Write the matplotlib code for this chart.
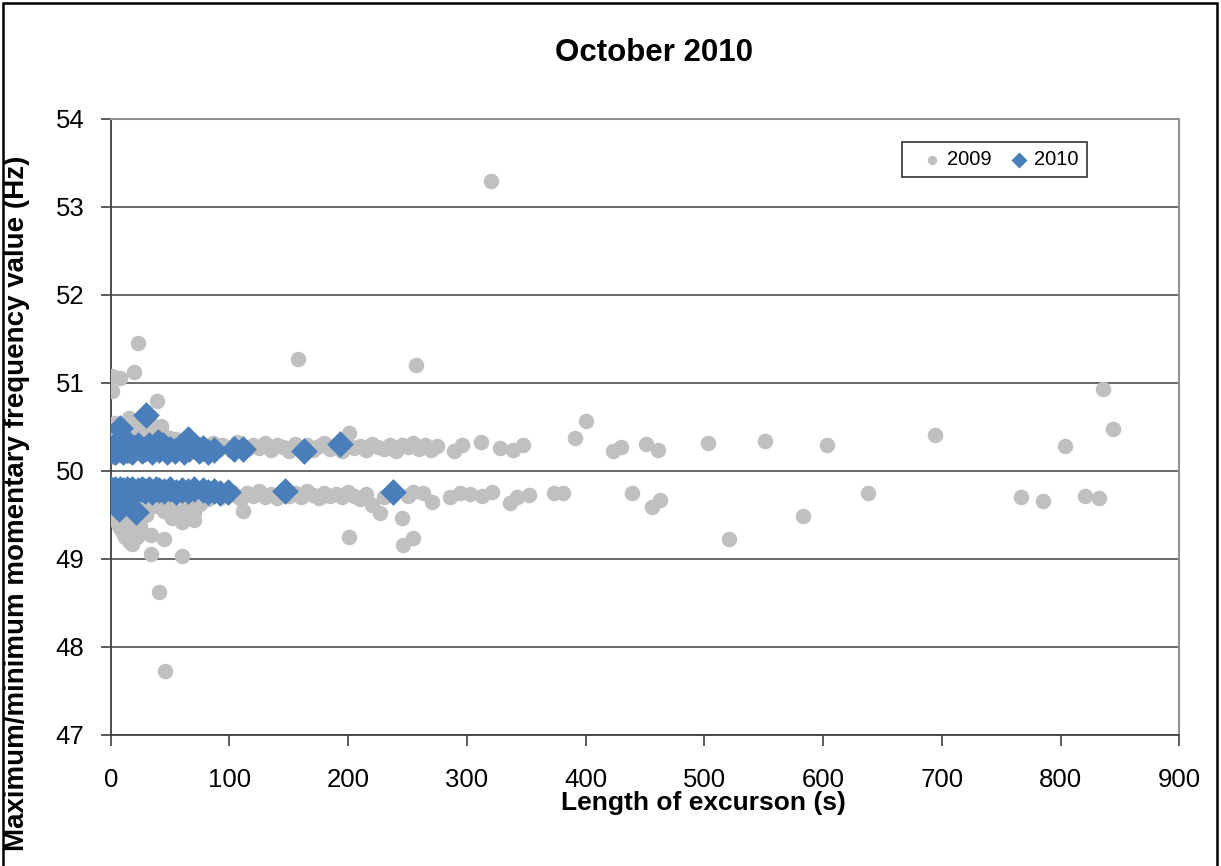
# 频率偏移散点图 October 2010
import matplotlib
matplotlib.use('Agg')
import matplotlib.pyplot as plt
from matplotlib.patches import Rectangle

plt.rcParams['font.family'] = ['Liberation Sans', 'DejaVu Sans']

# 2009 - upper band (dense)
x09_hi = [0, 2, 3, 5, 6, 8, 10, 12, 14, 15, 17, 19, 20, 22, 24, 26, 28, 30, 32, 34, 36, 38, 40, 43,
          46, 49, 52, 55, 58, 61, 64, 67, 70, 74, 78, 82, 86, 90, 94, 98, 102, 106, 110, 115, 120,
          125, 130, 135, 140, 145, 150, 155, 160, 165, 170, 175, 180, 185, 190, 195, 200, 205, 210,
          215, 220, 225, 230, 235, 240, 245, 250, 255, 260, 265, 270, 275,
          2, 4, 7, 10, 12, 15, 18, 20, 24, 27, 30, 33, 37, 42, 45, 50, 3, 9, 16, 25, 35, 55, 62]
y09_hi = [50.25, 50.3, 50.22, 50.33, 50.27, 50.24, 50.35, 50.28, 50.22, 50.31, 50.26, 50.34, 50.23,
          50.29, 50.32, 50.24, 50.3, 50.27, 50.33, 50.22, 50.28, 50.31, 50.25, 50.3, 50.23, 50.32,
          50.27, 50.24, 50.3, 50.33, 50.26, 50.23, 50.29, 50.31, 50.25, 50.28, 50.32, 50.24, 50.3,
          50.27, 50.23, 50.33, 50.28, 50.25, 50.3, 50.26, 50.32, 50.24, 50.29, 50.27, 50.23, 50.31,
          50.26, 50.3, 50.24, 50.28, 50.32, 50.25, 50.29, 50.23, 50.3, 50.26, 50.28, 50.24, 50.31,
          50.27, 50.25, 50.29, 50.23, 50.3, 50.27, 50.32, 50.25, 50.29, 50.24, 50.28,
          50.45, 50.55, 50.4, 50.5, 50.38, 50.6, 50.45, 50.55, 50.5, 50.6, 50.42, 50.55, 50.4, 50.45,
          50.35, 50.38, 50.16, 50.18, 50.17, 50.4, 50.45, 50.36, 50.35]

# 2009 - lower band (dense)
x09_lo = [0, 2, 3, 5, 6, 8, 10, 12, 14, 15, 17, 19, 20, 22, 24, 26, 28, 30, 32, 34, 36, 38, 40, 43,
          46, 49, 52, 55, 58, 61, 64, 67, 70, 74, 78, 82, 86, 90, 94, 98, 102, 106, 110, 115, 120,
          125, 130, 135, 140, 145, 150, 155, 160, 165, 170, 175, 180, 185, 190, 195, 200, 205, 210,
          215, 230, 235, 250, 255,
          1, 2, 3, 5, 6, 8, 10, 10, 12, 14, 15, 17, 18, 20, 22, 24, 26, 28, 30, 34, 38, 45, 50, 55,
          60, 65, 70, 75, 4, 7, 13, 25]
y09_lo = [49.75, 49.7, 49.78, 49.68, 49.74, 49.79, 49.71, 49.76, 49.68, 49.73, 49.79, 49.7, 49.75,
          49.69, 49.77, 49.72, 49.68, 49.76, 49.7, 49.74, 49.78, 49.69, 49.73, 49.77, 49.7, 49.75,
          49.68, 49.72, 49.77, 49.7, 49.74, 49.69, 49.76, 49.71, 49.75, 49.68, 49.73, 49.77, 49.7,
          49.74, 49.76, 49.71, 49.68, 49.75, 49.72, 49.77, 49.7, 49.74, 49.69, 49.76, 49.72, 49.75,
          49.7, 49.77, 49.73, 49.69, 49.75, 49.71, 49.74, 49.7, 49.76, 49.72, 49.68, 49.74, 49.7,
          49.75, 49.72, 49.76,
          49.6, 49.5, 49.45, 49.55, 49.4, 49.35, 49.5, 49.3, 49.25, 49.4, 49.2, 49.3, 49.17, 49.35,
          49.25, 49.45, 49.55, 49.6, 49.5, 49.65, 49.6, 49.55, 49.6, 49.55, 49.5, 49.6, 49.52, 49.62,
          49.58, 49.62, 49.48, 49.38]

# 2009 - outliers and sparse points
x09_out = [320, 23, 158, 257, 1, 8, 20, 1, 39, 42, 201, 312, 391, 400, 423, 430, 451, 461, 503, 551,
           603, 694, 804, 836, 844, 289, 296, 328, 339, 347,
           34, 60, 41, 46, 34, 45, 52, 60, 70, 111, 201, 227, 220, 245, 246, 255, 336, 352, 373, 381,
           439, 456, 463, 521, 583, 638, 767, 785, 821, 832, 263, 271, 286, 294, 303, 313, 321, 342]
y09_out = [53.3, 51.46, 51.27, 51.21, 51.08, 51.06, 51.12, 50.91, 50.79, 50.51, 50.43, 50.33, 50.37,
           50.57, 50.23, 50.27, 50.31, 50.24, 50.32, 50.34, 50.29, 50.41, 50.28, 50.93, 50.48,
           50.23, 50.29, 50.26, 50.24, 50.29,
           49.06, 49.03, 48.62, 47.73, 49.27, 49.23, 49.47, 49.42, 49.44, 49.55, 49.25, 49.52, 49.61,
           49.47, 49.16, 49.24, 49.64, 49.73, 49.75, 49.75, 49.75, 49.59, 49.67, 49.23, 49.49, 49.75,
           49.7, 49.66, 49.71, 49.69, 49.75, 49.65, 49.7, 49.75, 49.74, 49.72, 49.76, 49.7]

# 2010 - upper
x10_hi = [0, 2, 4, 6, 8, 10, 12, 14, 16, 18, 20, 23, 26, 29, 32, 35, 38, 41, 44, 47, 50, 54, 58, 62,
          66, 70, 74, 78, 82, 87, 65, 8, 30, 104, 111, 163, 193, 5, 15, 40, 60]
y10_hi = [50.23, 50.27, 50.22, 50.3, 50.25, 50.22, 50.28, 50.24, 50.3, 50.22, 50.26, 50.29, 50.23,
          50.25, 50.3, 50.22, 50.27, 50.24, 50.29, 50.22, 50.25, 50.23, 50.27, 50.22, 50.25, 50.28,
          50.23, 50.26, 50.22, 50.24, 50.36, 50.49, 50.64, 50.25, 50.25, 50.23, 50.31, 50.32, 50.3,
          50.33, 50.3]

# 2010 - lower
x10_lo = [0, 2, 4, 6, 8, 10, 12, 14, 16, 18, 20, 23, 26, 29, 32, 35, 38, 41, 45, 50, 55, 60, 65, 70,
          78, 82, 87, 92, 99, 7, 21, 5, 12, 18, 147, 238]
y10_lo = [49.8, 49.77, 49.79, 49.76, 49.8, 49.78, 49.75, 49.79, 49.77, 49.8, 49.76, 49.78, 49.8,
          49.77, 49.79, 49.76, 49.8, 49.78, 49.77, 49.79, 49.76, 49.78, 49.77, 49.8, 49.78, 49.76,
          49.77, 49.75, 49.76, 49.57, 49.53, 49.68, 49.7, 49.72, 49.77, 49.76]

fig = plt.figure(figsize=(12.21, 8.66), dpi=100)
ax = fig.add_axes([0.0907, 0.1513, 0.8751, 0.7113])

ax.scatter(x09_hi + x09_lo + x09_out, y09_hi + y09_lo + y09_out, s=125, marker='o',
           color='#C0C0C0', linewidths=0, label='2009', zorder=3)
ax.scatter(x10_hi + x10_lo, y10_hi + y10_lo, s=185, marker='D', color='#4A7EBB',
           linewidths=0, label='2010', zorder=4)

ax.set_xlim(0, 900)
ax.set_ylim(47, 54)
ax.set_xticks(range(0, 901, 100))
ax.set_yticks(range(47, 55))
ax.grid(axis='y', color='#404040', linewidth=1.1, zorder=1)
ax.set_axisbelow(True)

for s in ['left', 'bottom']:
    ax.spines[s].set_color('#404040')
    ax.spines[s].set_linewidth(1.3)
for s in ['top', 'right']:
    ax.spines[s].set_color('#909090')
    ax.spines[s].set_linewidth(1.5)

ax.tick_params(axis='y', direction='out', length=7, width=1.2, pad=12, labelsize=18.5, color='#404040')
ax.tick_params(axis='x', direction='out', length=8, width=1.2, pad=16, labelsize=18.5, color='#404040')

leg = ax.legend(loc='upper left', bbox_to_anchor=(0.7405, 0.9627), borderaxespad=0,
                fontsize=14.5, frameon=True, fancybox=False, edgecolor='black', ncol=2,
                handletextpad=-0.35, columnspacing=0.25, borderpad=0.4, markerscale=0.6,
                handlelength=2.2, scatterpoints=1)
leg.get_frame().set_linewidth(1.2)

fig.text(0.536, 0.9385, 'October 2010', ha='center', va='center', fontsize=22.5, fontweight='bold')
fig.text(0.576, 0.0727, 'Length of excurson (s)', ha='center', va='center', fontsize=19, fontweight='bold')
fig.text(0.014, 0.419, 'Maximum/minimum momentary frequency value (Hz)', ha='center', va='center',
         rotation=90, fontsize=20, fontweight='bold')

# 外框
fig.patches.append(Rectangle((0.0025, -0.01), 0.9945, 1.006, transform=fig.transFigure,
                             fill=False, edgecolor='black', linewidth=1.8))

plt.savefig('out.png', dpi=100)
